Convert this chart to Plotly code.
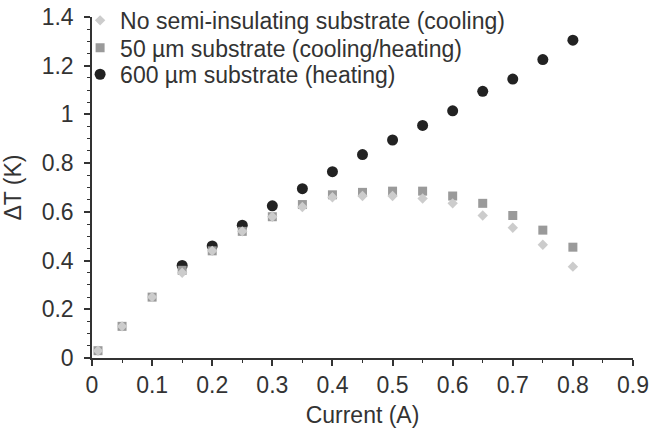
import plotly.graph_objects as go

current = [0.01, 0.05, 0.10, 0.15, 0.20, 0.25, 0.30, 0.35, 0.40, 0.45,
           0.50, 0.55, 0.60, 0.65, 0.70, 0.75, 0.80]

no_substrate = [0.03, 0.13, 0.25, 0.35, 0.44, 0.52, 0.58, 0.62, 0.66, 0.665,
                0.665, 0.655, 0.635, 0.585, 0.535, 0.465, 0.375]
sub_50um = [0.03, 0.13, 0.25, 0.36, 0.44, 0.52, 0.58, 0.63, 0.67, 0.68,
            0.685, 0.685, 0.665, 0.635, 0.585, 0.525, 0.455]
sub_600um = [None, None, None, 0.38, 0.46, 0.545, 0.625, 0.695, 0.765, 0.835,
             0.895, 0.955, 1.015, 1.095, 1.145, 1.225, 1.305]

names = ["No semi-insulating substrate (cooling)",
         "50 µm substrate (cooling/heating)",
         "600 µm substrate (heating)"]

x_ticks = [0, 0.1, 0.2, 0.3, 0.4, 0.5, 0.6, 0.7, 0.8, 0.9]
y_ticks = [0, 0.2, 0.4, 0.6, 0.8, 1.0, 1.2, 1.4]

FONT = "Liberation Sans, Arial, Helvetica, sans-serif"
TXT = "#333333"
FS = 23

fig = go.Figure()
fig.add_trace(go.Scatter(x=current, y=sub_600um, mode="markers", name=names[2],
                         legend="legend3",
                         marker=dict(symbol="circle", size=11, color="#222222")))
fig.add_trace(go.Scatter(x=current, y=sub_50um, mode="markers", name=names[1],
                         legend="legend2",
                         marker=dict(symbol="square", size=9, color="#9a9a9a")))
fig.add_trace(go.Scatter(x=current, y=no_substrate, mode="markers", name=names[0],
                         legend="legend",
                         marker=dict(symbol="diamond", size=8, color="#cccccc")))

def leg(ypos):
    return dict(x=-0.022, y=ypos, xanchor="left", yanchor="middle",
                bgcolor="rgba(0,0,0,0)", borderwidth=0,
                font=dict(size=FS, color=TXT, family=FONT), itemsizing="trace")

axis_common = dict(showgrid=False, zeroline=False, showline=True,
                   linecolor="#333333", linewidth=1.5,
                   ticks="outside", ticklen=6, tickwidth=1.5, tickcolor="#333333",
                   ticklabeloverflow="allow",
                   tickfont=dict(size=FS, color=TXT))

fig.update_layout(
    width=650, height=430,
    margin=dict(l=92, r=17, t=17, b=72, autoexpand=False),
    paper_bgcolor="white", plot_bgcolor="white",
    font=dict(family=FONT, size=FS, color=TXT),
    showlegend=True,
    legend=leg(0.99),
    legend2=leg(0.91),
    legend3=leg(0.832),
    xaxis=dict(range=[0, 0.9], tickvals=x_ticks,
               ticktext=[("%g" % v) for v in x_ticks],
               minor=dict(ticks="outside", dtick=0.05, ticklen=3,
                          tickwidth=1.2, tickcolor="#333333"),
               title=dict(text="Current (A)", standoff=10, font=dict(size=FS)),
               **axis_common),
    yaxis=dict(range=[0, 1.4], tickvals=y_ticks,
               ticktext=[("%g" % v) for v in y_ticks],
               minor=dict(ticks="outside", dtick=0.05, ticklen=3,
                          tickwidth=1.2, tickcolor="#333333"),
               ticklabelstandoff=6,
               title=dict(text="ΔT (K)", standoff=14, font=dict(size=FS)),
               **axis_common),
)

fig.write_html("out.html",
               config={"displayModeBar": False},
               post_script="document.body.style.margin='0';"
                           "document.body.style.overflow='hidden';")
